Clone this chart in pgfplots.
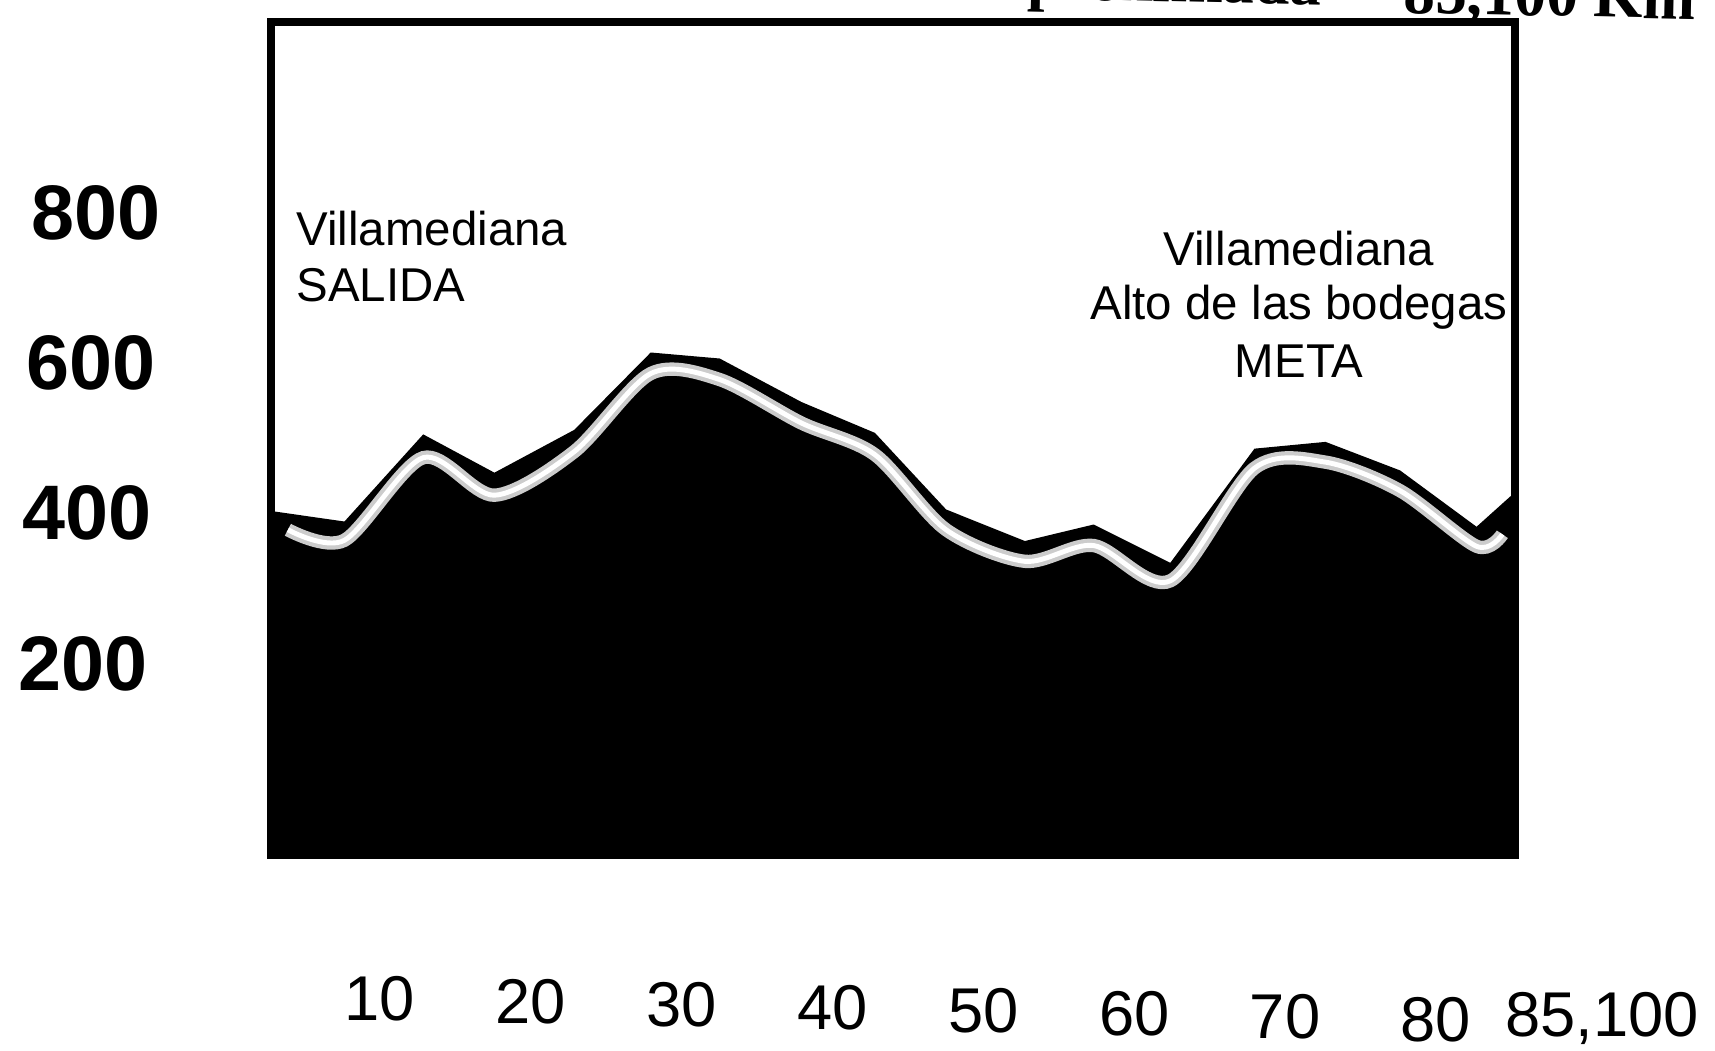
\documentclass[border=0pt]{standalone}
\usepackage{pgfplots}
\pgfplotsset{compat=1.18}
\usepackage{pgfplotstable}
\usepackage{fontspec}
\setmainfont{Liberation Sans}
\newfontfamily\titlefont{Liberation Serif}

\pgfplotstableread{
km alt
2.78 -55
2.78 403
7.65 389
12.87 505
17.59 454
22.88 511
27.95 614
32.52 606
37.95 548
42.81 507
47.53 405
52.75 363
57.31 385
62.39 334
67.97 486
72.68 495
77.62 457
82.69 382
85.24 428
85.24 -55
}\profile

\pgfplotstableread{
km alt
3.9 378
7.65 364
12.87 474
17.59 424
22.88 482
27.95 586
32.52 578
37.95 520
42.81 478
47.53 378
52.75 336
57.31 357
62.39 310
67.97 460
72.68 468
77.62 430
82.69 356
84.4 372
}\shine

\begin{document}
\begin{tikzpicture}
\useasboundingbox (-2.71,-1.95) rectangle (14.44,8.55);
\begin{axis}[
  at={(0,0)}, anchor=south west,
  scale only axis, width=12.44cm, height=8.33cm,
  xmin=2.78, xmax=85.24, ymin=-55, ymax=1054,
  axis on top,
  axis line style={line width=2.2pt, black},
  xtick={10,20,30,40,50,60,70,80},
  ytick={200,400,600,800},
  major tick length=0pt,
  /pgf/number format/assume math mode=true,
  xticklabel style={font=\fontsize{18}{20}\selectfont, anchor=center, yshift=-1.433cm-0.031cm*\ticknum},
  yticklabel style={font=\fontsize{22}{24}\selectfont\bfseries, anchor=east, xshift=-1.115cm+0.044cm*\ticknum},
  clip=false,
]
\addplot[fill=black, draw=none] table[x=km, y=alt] {\profile} -- cycle;
\addplot[smooth, tension=0.5, line width=3.8pt, color=gray!40] table[x=km, y=alt] {\shine};
\addplot[smooth, tension=0.5, line width=1.4pt, color=white] table[x=km, y=alt] {\shine};
\node[font=\fontsize{18}{20}\selectfont, anchor=center, yshift=-1.63cm] at (axis cs:91.0,-55) {85,100};
\end{axis}
\node[anchor=base west, font=\fontsize{13.5}{15}\selectfont] at (0.13,6.09) {Villamediana};
\node[anchor=base west, font=\fontsize{13.5}{15}\selectfont] at (0.13,5.54) {SALIDA};
\node[anchor=base, font=\fontsize{13.5}{15}\selectfont] at (10.28,5.90) {Villamediana};
\node[anchor=base, font=\fontsize{13.5}{15}\selectfont] at (10.28,5.35) {Alto de las bodegas};
\node[anchor=base, font=\fontsize{13.5}{15}\selectfont] at (10.28,4.78) {META};
\node[anchor=base east, font=\titlefont\bfseries\fontsize{18}{20}\selectfont, inner sep=0pt, rotate=-1.2] at (10.51,8.50) {Distancia aproximada};
\node[anchor=base west, font=\titlefont\bfseries\fontsize{18}{20}\selectfont, inner sep=0pt, rotate=-1.2] at (11.32,8.42) {85,100 Km};
\end{tikzpicture}
\end{document}
